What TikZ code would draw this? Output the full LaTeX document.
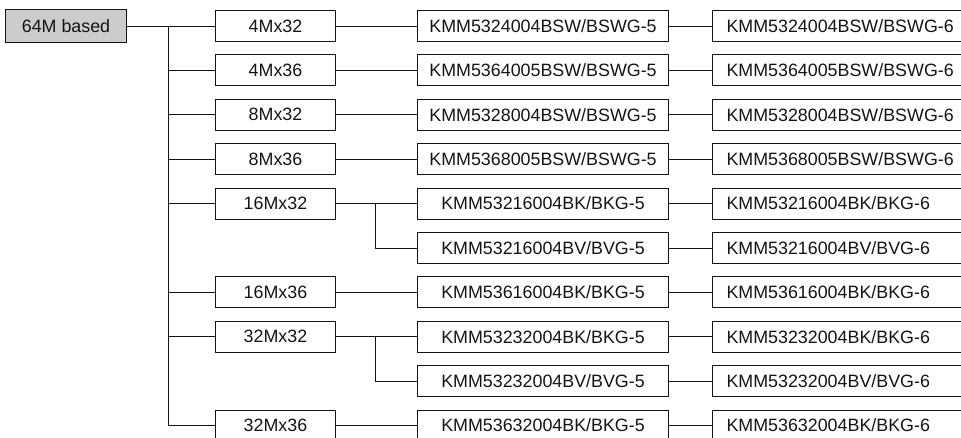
\documentclass[tikz,border=0pt]{standalone}
\usepackage{fontspec}
\setmainfont{Liberation Sans}
\usepackage{xcolor}
\definecolor{halftone}{RGB}{204,204,204}
\definecolor{ink}{RGB}{20,20,20}
\usepackage{tikz}
\usetikzlibrary{positioning,calc}

\begin{document}
\begin{tikzpicture}[
  x=0.025cm, y=-0.025cm,
  line width=0.7pt, draw=ink,
  base/.style={rectangle,draw=ink,fill=halftone,text=ink,inner sep=0pt,
               font=\fontsize{12.7}{15}\selectfont,
               minimum width=3.025cm,minimum height=0.8cm,anchor=west},
  org/.style={rectangle,draw=ink,text=ink,inner sep=0pt,
              font=\fontsize{12.7}{15}\selectfont,
              minimum width=3cm,minimum height=0.775cm,anchor=west},
  part/.style={rectangle,draw=ink,text=ink,inner sep=0pt,
               font=\fontsize{12.7}{15}\selectfont,
               minimum width=6.275cm,minimum height=0.775cm,anchor=west},
  fast/.style={rectangle,draw=ink,text=ink,inner xsep=0.35cm,inner ysep=0pt,
               font=\fontsize{12.7}{15}\selectfont,
               text width=5.9cm,align=left,minimum height=0.775cm,anchor=west},
]
  \clip (0,0) rectangle (961,438);

  \node[base](root) at (5,26) {64M based};

  %% organisation
  \node[org](a0) at (215,26)    {4Mx32};
  \node[org](a1) at (215,70.4)  {4Mx36};
  \node[org](a2) at (215,114.8) {8Mx32};
  \node[org](a3) at (215,159.2) {8Mx36};
  \node[org](a4) at (215,203.6) {16Mx32};
  \node[org](a6) at (215,292.4) {16Mx36};
  \node[org](a7) at (215,336.8) {32Mx32};
  \node[org](a9) at (215,425.6) {32Mx36};

  %% -5 parts
  \node[part](b0) at (417,26)    {KMM5324004BSW/BSWG-5};
  \node[part](b1) at (417,70.4)  {KMM5364005BSW/BSWG-5};
  \node[part](b2) at (417,114.8) {KMM5328004BSW/BSWG-5};
  \node[part](b3) at (417,159.2) {KMM5368005BSW/BSWG-5};
  \node[part](b4) at (417,203.6) {KMM53216004BK/BKG-5};
  \node[part](b5) at (417,248)   {KMM53216004BV/BVG-5};
  \node[part](b6) at (417,292.4) {KMM53616004BK/BKG-5};
  \node[part](b7) at (417,336.8) {KMM53232004BK/BKG-5};
  \node[part](b8) at (417,381.2) {KMM53232004BV/BVG-5};
  \node[part](b9) at (417,425.6) {KMM53632004BK/BKG-5};

  %% -6 parts
  \node[fast](c0) at (712,26)    {KMM5324004BSW/BSWG-6};
  \node[fast](c1) at (712,70.4)  {KMM5364005BSW/BSWG-6};
  \node[fast](c2) at (712,114.8) {KMM5328004BSW/BSWG-6};
  \node[fast](c3) at (712,159.2) {KMM5368005BSW/BSWG-6};
  \node[fast](c4) at (712,203.6) {KMM53216004BK/BKG-6};
  \node[fast](c5) at (712,248)   {KMM53216004BV/BVG-6};
  \node[fast](c6) at (712,292.4) {KMM53616004BK/BKG-6};
  \node[fast](c7) at (712,336.8) {KMM53232004BK/BKG-6};
  \node[fast](c8) at (712,381.2) {KMM53232004BV/BVG-6};
  \node[fast](c9) at (712,425.6) {KMM53632004BK/BKG-6};

  %% tree lines
  \coordinate (trunk) at (168,26);
  \coordinate (split4) at (375,203.6);
  \coordinate (split7) at (375,336.8);

  \draw (root.east) -- (a0.west);
  \draw (trunk) |- (a9.west);
  \draw (trunk |- a1.west) -- (a1.west);
  \draw (trunk |- a2.west) -- (a2.west);
  \draw (trunk |- a3.west) -- (a3.west);
  \draw (trunk |- a4.west) -- (a4.west);
  \draw (trunk |- a6.west) -- (a6.west);
  \draw (trunk |- a7.west) -- (a7.west);

  \draw (a0.east) -- (b0.west);
  \draw (a1.east) -- (b1.west);
  \draw (a2.east) -- (b2.west);
  \draw (a3.east) -- (b3.west);
  \draw (a4.east) -- (b4.west);
  \draw (split4) |- (b5.west);
  \draw (a6.east) -- (b6.west);
  \draw (a7.east) -- (b7.west);
  \draw (split7) |- (b8.west);
  \draw (a9.east) -- (b9.west);

  \draw (b0.east) -- (c0.west);
  \draw (b1.east) -- (c1.west);
  \draw (b2.east) -- (c2.west);
  \draw (b3.east) -- (c3.west);
  \draw (b4.east) -- (c4.west);
  \draw (b5.east) -- (c5.west);
  \draw (b6.east) -- (c6.west);
  \draw (b7.east) -- (c7.west);
  \draw (b8.east) -- (c8.west);
  \draw (b9.east) -- (c9.west);

\end{tikzpicture}
\end{document}
